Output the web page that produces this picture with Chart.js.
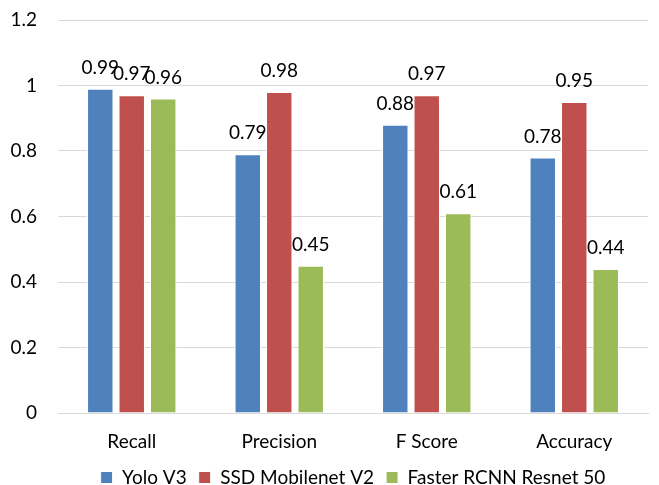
<!DOCTYPE html>
<html>
<head>
<meta charset="utf-8">
<script src="https://cdn.jsdelivr.net/npm/chart.js@4/dist/chart.umd.min.js"></script>
<style>
  html, body { margin: 0; padding: 0; background: #fff; }
  #wrap { width: 659px; height: 485px; }
</style>
</head>
<body>
<div id="wrap"><canvas id="c" width="659" height="485"></canvas></div>
<script>
const categories = ['Recall', 'Precision', 'F Score', 'Accuracy'];
const yoloV3 = [0.99, 0.79, 0.88, 0.78];
const ssdMobilenetV2 = [0.97, 0.98, 0.97, 0.95];
const fasterRcnnResnet50 = [0.96, 0.45, 0.61, 0.44];
const yTicks = [0, 0.2, 0.4, 0.6, 0.8, 1, 1.2];

const FONT = 'Lato, "Open Sans", sans-serif';
const FONT_SIZE = 19;

// Value labels drawn just above each bar
const valueLabels = {
  id: 'valueLabels',
  afterDatasetsDraw(chart) {
    const ctx = chart.ctx;
    ctx.save();
    ctx.font = FONT_SIZE + 'px ' + FONT;
    ctx.fillStyle = '#000';
    ctx.textAlign = 'center';
    ctx.textBaseline = 'alphabetic';
    chart.data.datasets.forEach((ds, i) => {
      chart.getDatasetMeta(i).data.forEach((bar, j) => {
        ctx.fillText(String(ds.data[j]), bar.x, bar.y - 15);
      });
    });
    ctx.restore();
  }
};

new Chart(document.getElementById('c'), {
  type: 'bar',
  data: {
    labels: categories,
    datasets: [
      { label: 'Yolo V3', data: yoloV3, backgroundColor: '#4F81BD' },
      { label: 'SSD Mobilenet V2', data: ssdMobilenetV2, backgroundColor: '#C0504D' },
      { label: 'Faster RCNN Resnet 50', data: fasterRcnnResnet50, backgroundColor: '#9BBB59' }
    ]
  },
  options: {
    responsive: false,
    animation: false,
    devicePixelRatio: 1,
    layout: { padding: { left: 4, right: 11, top: 20, bottom: -12 } },
    datasets: {
      bar: {
        categoryPercentage: 0.64,
        barPercentage: 0.84,
        borderColor: '#ffffff',
        borderWidth: 1
      }
    },
    plugins: {
      legend: {
        position: 'bottom',
        fullSize: false,
        labels: {
          font: { family: FONT, size: FONT_SIZE },
          color: '#000',
          boxWidth: 12,
          boxHeight: 12,
          padding: 12
        }
      },
      tooltip: { enabled: false }
    },
    scales: {
      x: {
        afterFit(axis) { axis.height = 43; axis.paddingLeft = 0; axis.paddingRight = 0; },
        grid: { display: false, drawTicks: false },
        border: { color: '#d9d9d9', width: 1 },
        ticks: { font: { family: FONT, size: FONT_SIZE }, color: '#000', padding: 17, maxRotation: 0 }
      },
      y: {
        min: 0,
        max: 1.2,
        afterBuildTicks(axis) { axis.ticks = yTicks.map(v => ({ value: v })); },
        afterFit(axis) { axis.width = 54; axis.paddingTop = 0; axis.paddingBottom = 0; },
        grid: { color: '#d9d9d9', lineWidth: 1, drawTicks: false },
        border: { display: false },
        ticks: {
          font: { family: FONT, size: FONT_SIZE },
          color: '#000',
          padding: 21,
          callback: v => String(v)
        }
      }
    }
  },
  plugins: [valueLabels]
});
</script>
</body>
</html>
